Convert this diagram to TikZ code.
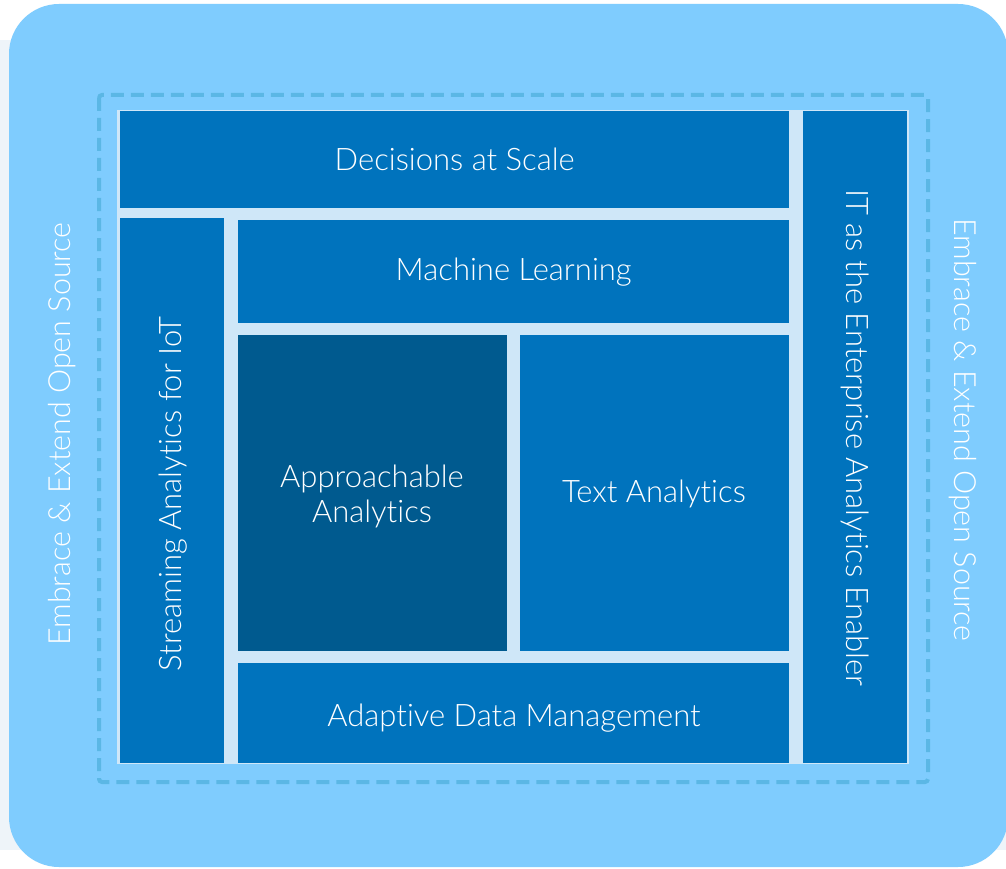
\documentclass[tikz,border=0pt]{standalone}
\usepackage{fontspec}
\setmainfont{Lato}[UprightFont=* Light,Ligatures=NoCommon]
\begin{document}
\begin{tikzpicture}[x=1pt,y=-1pt,
  tile/.style={fill=tileblue,draw=none},
  lbl/.style={text=white,font=\fontsize{31}{35}\selectfont,align=center,inner sep=0pt},
  side/.style={text=white,font=\fontsize{30.5}{35}\selectfont,inner sep=0pt}]
\definecolor{tileblue}{HTML}{0073BD}
\definecolor{darkblue}{HTML}{005A8F}
\definecolor{skyblue}{HTML}{7FCCFE}
\definecolor{dashblue}{HTML}{5BB7E5}
\definecolor{gapblue}{HTML}{CFE7F8}
\definecolor{pagebg}{HTML}{EEF4F9}
\useasboundingbox (0,0) rectangle (1006,869);
\fill[pagebg] (0,0) rectangle (1006,869);
\fill[white] (0,0) rectangle (1006,40);
\fill[white] (0,850) rectangle (1006,869);
% outer rounded panel
\fill[skyblue,rounded corners=50pt] (9,4) rectangle (1008,867);
% dashed frame
\draw[dashblue,line width=4pt,dash pattern=on 13pt off 7pt,rounded corners=3pt] (99,95) rectangle (928,782);
% light background behind tiles
\fill[gapblue] (117,110) rectangle (909,764);
% tiles
\node[tile,minimum width=669pt,minimum height=97pt,anchor=north west] (dec) at (120,111) {};
\node[lbl] at (dec.center) {Decisions at Scale};
\node[tile,minimum width=104pt,minimum height=652pt,anchor=north west] (it) at (803,111) {};
\node[lbl,rotate=-90] at (855,438) {IT as the Enterprise Analytics Enabler};
\node[tile,minimum width=104pt,minimum height=545pt,anchor=north west] (str) at (120,218) {};
\node[lbl,rotate=90] at (173,494) {Streaming Analytics for IoT};
\node[tile,minimum width=551pt,minimum height=103pt,anchor=north west] (ml) at (238,220) {};
\node[lbl] at (ml.center) {Machine Learning};
\node[fill=darkblue,draw=none,minimum width=269pt,minimum height=316pt,anchor=north west] (app) at (238,335) {};
\node[lbl] at (372,496) {Approachable\\Analytics};
\node[tile,minimum width=269pt,minimum height=316pt,anchor=north west] (txt) at (520,335) {};
\node[lbl] at (654,494) {Text Analytics};
\node[tile,minimum width=551pt,minimum height=100pt,anchor=north west] (adm) at (238,663) {};
\node[lbl] at (514,718) {Adaptive Data Management};
% side labels
\node[side,rotate=90] (el) at (62,434) {Embrace \& Extend Open Source};
\node[side,rotate=-90] (er) at (963,430) {Embrace \& Extend Open Source};
\end{tikzpicture}
\end{document}
